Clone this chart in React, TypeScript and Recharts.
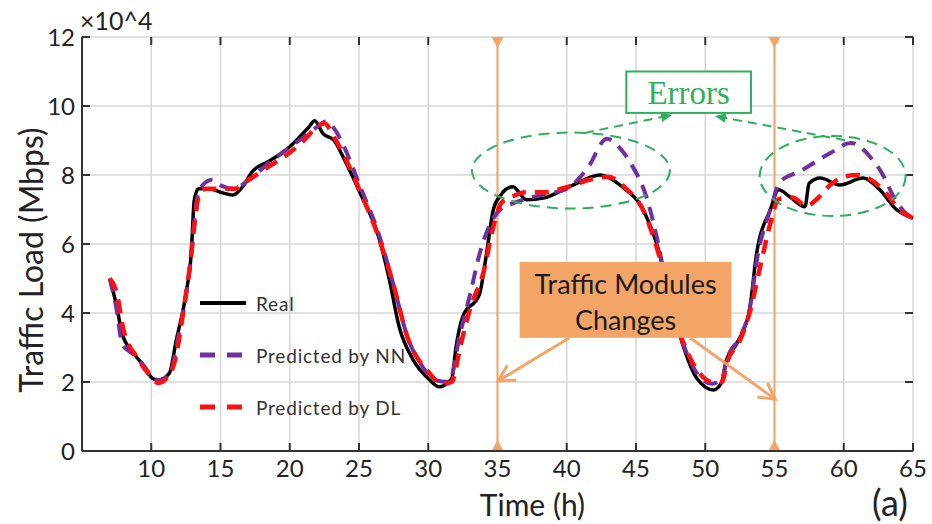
import React from 'react';
import {
  LineChart, Line, XAxis, YAxis, CartesianGrid, Legend,
  ReferenceLine, ReferenceDot, ReferenceArea, Label
} from 'recharts';

// readings, load in units of 10^4 Mbps
const realHours = [7, 7.5, 7.9, 8.7, 9.5, 10.1, 10.5, 11.3, 11.8, 12.5, 12.9, 13.1, 13.4, 14.2, 15, 15.9, 16.6, 17.3, 18.5, 20, 21.4, 21.8, 22.4, 23.2, 24, 25, 26.5, 27.2, 27.9, 28.9, 30, 30.8, 31.7, 32, 32.5, 33.7, 34.2, 34.7, 35.2, 36.1, 37.1, 38.3, 40.4, 42.4, 44, 45.5, 46.5, 47.9, 49.4, 50.6, 51.2, 51.5, 52.3, 53.2, 53.7, 54.7, 55.3, 56.1, 57.2, 57.5, 58.3, 59.7, 61.4, 62.6, 63.8, 65];
const realLoad = [5.0, 4.2, 3.4, 2.85, 2.45, 2.1, 2.05, 2.25, 3.2, 4.55, 5.8, 7.25, 7.6, 7.6, 7.5, 7.42, 7.66, 8.1, 8.4, 8.82, 9.4, 9.57, 9.2, 9.0, 8.4, 7.55, 6.1, 4.95, 3.6, 2.65, 2.1, 1.86, 2.1, 3.0, 3.9, 4.55, 5.7, 7.0, 7.4, 7.66, 7.28, 7.33, 7.7, 8.0, 7.66, 7.0, 6.0, 3.7, 2.1, 1.77, 2.0, 2.6, 3.13, 4.1, 5.7, 7.0, 7.57, 7.37, 7.08, 7.76, 7.91, 7.71, 7.91, 7.57, 7.0, 6.75];

const nnHours = [7, 7.5, 7.9, 8.7, 9.5, 10.2, 10.6, 11.4, 11.9, 12.5, 12.9, 13.3, 13.7, 14.4, 15, 16, 17, 18.5, 20, 21, 22, 22.6, 23.2, 24, 25, 26.5, 27.5, 28.5, 29.5, 30.5, 31.5, 32.3, 33, 33.7, 34.5, 35.2, 36.1, 37, 38.5, 40, 41.5, 42.9, 44, 44.6, 45.8, 46.5, 47.5, 48.5, 49.5, 50.5, 51.2, 51.6, 52.5, 53.2, 53.8, 54.7, 55.4, 56.8, 59, 60.5, 61.9, 62.9, 63.6, 64.8, 65];
const nnLoad = [5.0, 4.1, 3.1, 2.8, 2.45, 2.1, 2.05, 2.3, 3.2, 4.5, 5.7, 7.3, 7.7, 7.86, 7.7, 7.6, 7.85, 8.35, 8.8, 9.1, 9.4, 9.55, 9.35, 8.75, 7.75, 6.2, 4.8, 3.3, 2.5, 2.05, 2.0, 3.4, 4.5, 5.7, 6.6, 7.0, 7.18, 7.3, 7.45, 7.6, 8.2, 9.05, 8.7, 8.35, 7.3, 6.2, 4.2, 3.0, 2.2, 1.95, 2.1, 2.7, 3.3, 4.1, 5.7, 7.0, 7.8, 8.1, 8.63, 8.93, 8.53, 7.95, 7.37, 6.79, 6.75];

const dlHours = [7, 7.5, 8, 9, 10, 10.5, 11.2, 11.7, 12.3, 12.8, 13.1, 13.5, 14, 15, 16, 17, 18.5, 20, 21, 22, 22.5, 23.2, 24, 25, 26.5, 27.5, 28.5, 30, 31, 31.7, 32.3, 33, 34, 34.7, 35.3, 36.2, 37, 38.5, 40, 42, 43, 44.3, 45.5, 46.5, 48, 49.5, 50.5, 51.2, 51.6, 52.5, 53.2, 54, 54.7, 55.3, 56.3, 57.3, 58, 59, 60, 61, 62, 63, 64, 65];
const dlLoad = [5.0, 4.6, 3.5, 2.7, 2.15, 1.97, 2.15, 2.6, 4.0, 5.4, 6.5, 7.5, 7.6, 7.6, 7.6, 7.85, 8.25, 8.65, 9.0, 9.4, 9.5, 9.1, 8.5, 7.6, 6.1, 4.8, 3.3, 2.3, 1.95, 2.0, 3.0, 4.1, 5.2, 6.5, 7.2, 7.4, 7.5, 7.5, 7.65, 7.9, 7.95, 7.6, 7.0, 5.9, 3.6, 2.3, 2.0, 2.0, 2.6, 3.2, 4.0, 5.4, 6.6, 7.3, 7.35, 7.1, 7.28, 7.7, 7.95, 8.0, 7.85, 7.5, 7.0, 6.75];

const seriesOrder = ['Real', 'Predicted by NN', 'Predicted by DL'];
const xTicks = [10, 15, 20, 25, 30, 35, 40, 45, 50, 55, 60, 65];
const yTicks = [0, 2, 4, 6, 8, 10, 12];
const changeHours = [35, 55];

// annotation anchors, in data coordinates
const errorCircles = [
  { x: 40.3, y: 8.13, rx: 99, ry: 38 },
  { x: 59.2, y: 7.97, rx: 73, ry: 40 },
];
const errorArrows = [
  [{ x: 41.3, y: 9.22 }, { x: 47.6, y: 9.74 }],
  [{ x: 60.1, y: 9.01 }, { x: 50.7, y: 9.71 }],
];
const changeArrows = [
  [{ x: 40.2, y: 3.28 }, { x: 35.05, y: 2.03 }],
  [{ x: 48.9, y: 3.28 }, { x: 55.05, y: 1.5 }],
];
const errorsBox = { x1: 44.3, x2: 53.3, y1: 9.8, y2: 11.0 };
const changesBox = { x1: 36.6, x2: 51.9, y1: 3.28, y2: 5.48 };

const toPoints = (hours: number[], load: number[]) => hours.map((h, i) => ({ h, load: load[i] }));
const realData = toPoints(realHours, realLoad);
const nnData = toPoints(nnHours, nnLoad);
const dlData = toPoints(dlHours, dlLoad);

const ORANGE = '#F3A568';
const GREEN = '#2FAE5C';
const AXIS = '#333';
const FONT = 'Lato, "Open Sans", sans-serif';
const TICK_LEN = 8;

const ChangeMarker = (props: any) => {
  const { x1, y1, y2 } = props;
  const top = Math.min(y1, y2);
  const bottom = Math.max(y1, y2);
  return (
    <g>
      <line x1={x1} x2={x1} y1={top} y2={bottom} stroke={ORANGE} strokeWidth={2} />
      <polygon points={`${x1 - 6},${top} ${x1 + 6},${top} ${x1},${top + 11}`} fill={ORANGE} />
      <polygon points={`${x1 - 6},${bottom} ${x1 + 6},${bottom} ${x1},${bottom - 11}`} fill={ORANGE} />
    </g>
  );
};

// inward tick marks on both ends of a grid line (box axes)
const XTickPair = (props: any) => {
  const { x1, y1, y2 } = props;
  const top = Math.min(y1, y2);
  const bottom = Math.max(y1, y2);
  return (
    <g>
      <line x1={x1} x2={x1} y1={top} y2={top + TICK_LEN} stroke={AXIS} strokeWidth={2} />
      <line x1={x1} x2={x1} y1={bottom} y2={bottom - TICK_LEN} stroke={AXIS} strokeWidth={2} />
    </g>
  );
};
const YTickPair = (props: any) => {
  const { x1, x2, y1 } = props;
  const left = Math.min(x1, x2);
  const right = Math.max(x1, x2);
  return (
    <g>
      <line x1={left} x2={left + TICK_LEN} y1={y1} y2={y1} stroke={AXIS} strokeWidth={2} />
      <line x1={right} x2={right - TICK_LEN} y1={y1} y2={y1} stroke={AXIS} strokeWidth={2} />
    </g>
  );
};

const makeArrow = (color: string, width: number, dash: string | undefined, open: boolean) => (props: any) => {
  const { x1, y1, x2, y2 } = props;
  const a = Math.atan2(y2 - y1, x2 - x1);
  const len = open ? 18 : 12;
  const spread = open ? 0.5 : 0.42;
  const p1 = `${x2 - len * Math.cos(a - spread)},${y2 - len * Math.sin(a - spread)}`;
  const p2 = `${x2 - len * Math.cos(a + spread)},${y2 - len * Math.sin(a + spread)}`;
  return (
    <g>
      <line x1={x1} y1={y1} x2={x2} y2={y2} stroke={color} strokeWidth={width} strokeDasharray={dash} />
      {open
        ? <polyline points={`${p1} ${x2},${y2} ${p2}`} fill="none" stroke={color} strokeWidth={width} />
        : <polygon points={`${p1} ${x2},${y2} ${p2}`} fill={color} />}
    </g>
  );
};

const renderLegend = (props: any) => {
  const payload = [...(props.payload || [])].sort(
    (a: any, b: any) => seriesOrder.indexOf(a.value) - seriesOrder.indexOf(b.value)
  );
  return (
    <div style={{ fontFamily: FONT, fontSize: 19, color: '#333', letterSpacing: 0.8 }}>
      {payload.map((entry: any) => (
        <div key={entry.value} style={{ display: 'flex', alignItems: 'center', height: 52 }}>
          <svg width={50} height={10}>
            <line
              x1={2} y1={5} x2={48} y2={5}
              stroke={entry.color}
              strokeWidth={entry.value === 'Real' ? 4 : 5}
              strokeDasharray={entry.value === 'Real' ? undefined : '15 12'}
            />
          </svg>
          <span style={{ marginLeft: 8 }}>{entry.value}</span>
        </div>
      ))}
    </div>
  );
};

const tickStyle = { fontFamily: FONT, fontSize: 24, fill: '#222' };

const App: React.FC = () => {
  return (
    <div style={{ position: 'absolute', left: 0, top: 0, width: 932, height: 524, background: '#fff' }}>
      <LineChart width={932} height={524} margin={{ top: 37, right: 19, bottom: 0, left: 22 }}>
        <CartesianGrid stroke="#d6d6d6" strokeWidth={1.5} />
        <XAxis
          dataKey="h"
          type="number"
          domain={[5, 65]}
          ticks={xTicks}
          height={73}
          tickSize={0}
          tickMargin={9}
          tickLine={false}
          tick={tickStyle}
          stroke={AXIS}
          strokeWidth={2}
          allowDuplicatedCategory={false}
        >
          <Label
            content={({ viewBox }: any) => (
              <text
                x={viewBox.x + viewBox.width / 2 + 35}
                y={viewBox.y + 65}
                textAnchor="middle"
                style={{ fontFamily: FONT, fontSize: 30, fill: '#222' }}
              >
                Time (h)
              </text>
            )}
          />
        </XAxis>
        <XAxis
          xAxisId="top"
          orientation="top"
          type="number"
          domain={[5, 65]}
          height={0}
          tick={false}
          tickLine={false}
          stroke={AXIS}
          strokeWidth={2}
        />
        <YAxis
          type="number"
          domain={[0, 12]}
          ticks={yTicks}
          width={60}
          tickSize={0}
          tickMargin={7}
          tickLine={false}
          tick={tickStyle}
          stroke={AXIS}
          strokeWidth={2}
        >
          <Label
            content={({ viewBox }: any) => {
              const cx = viewBox.x + 8;
              const cy = 260;
              return (
                <text
                  x={cx}
                  y={cy}
                  textAnchor="middle"
                  dominantBaseline="central"
                  transform={`rotate(-90, ${cx}, ${cy})`}
                  style={{ fontFamily: FONT, fontSize: 32, fill: '#222' }}
                >
                  Traffic Load (Mbps)
                </text>
              );
            }}
          />
        </YAxis>
        <YAxis
          yAxisId="right"
          orientation="right"
          type="number"
          domain={[0, 12]}
          width={0}
          tick={false}
          tickLine={false}
          stroke={AXIS}
          strokeWidth={2}
        />

        {xTicks.map(t => (
          <ReferenceLine key={`xt${t}`} x={t} stroke="none" shape={XTickPair} />
        ))}
        {yTicks.map(t => (
          <ReferenceLine key={`yt${t}`} y={t} stroke="none" shape={YTickPair} />
        ))}

        <Legend
          content={renderLegend}
          layout="vertical"
          align="center"
          verticalAlign="middle"
          wrapperStyle={{ left: 198, top: 277, width: 260 }}
        />

        {changeHours.map(h => (
          <ReferenceLine key={h} x={h} shape={ChangeMarker} />
        ))}

        <Line data={realData} dataKey="load" name="Real" type="monotone" stroke="#000" strokeWidth={3.5}
          dot={false} isAnimationActive={false} />
        <Line data={nnData} dataKey="load" name="Predicted by NN" type="monotone" stroke="#7030A0" strokeWidth={4}
          strokeDasharray="14 9" dot={false} isAnimationActive={false} />
        <Line data={dlData} dataKey="load" name="Predicted by DL" type="monotone" stroke="#FF1010" strokeWidth={4.5}
          strokeDasharray="14 9" dot={false} isAnimationActive={false} />

        {errorCircles.map((c, i) => (
          <ReferenceDot
            key={`c${i}`}
            x={c.x}
            y={c.y}
            r={0}
            zIndex={700}
            shape={(p: any) => (
              <ellipse cx={p.cx} cy={p.cy} rx={c.rx} ry={c.ry} fill="none"
                stroke={GREEN} strokeWidth={2} strokeDasharray="11 7" />
            )}
          />
        ))}
        {errorArrows.map((seg, i) => (
          <ReferenceLine key={`e${i}`} segment={seg} zIndex={700} shape={makeArrow(GREEN, 2, '9 6', false)} />
        ))}
        <ReferenceArea
          {...errorsBox}
          zIndex={700}
          shape={(p: any) => (
            <g>
              <rect x={p.x} y={p.y} width={p.width} height={p.height} fill="#fff" stroke={GREEN} strokeWidth={2} />
              <text x={p.x + p.width / 2} y={p.y + p.height / 2 + 1} textAnchor="middle" dominantBaseline="central"
                style={{ fontFamily: '"Liberation Serif", serif', fontSize: 33, fill: GREEN }}>
                Errors
              </text>
            </g>
          )}
        />
        <ReferenceArea
          {...changesBox}
          zIndex={700}
          shape={(p: any) => (
            <g>
              <rect x={p.x} y={p.y} width={p.width} height={p.height} fill={ORANGE} />
              <text x={p.x + p.width / 2} y={p.y + 22} textAnchor="middle" dominantBaseline="central"
                style={{ fontFamily: FONT, fontSize: 27, fill: '#1a1a1a' }}>
                Traffic Modules
              </text>
              <text x={p.x + p.width / 2} y={p.y + 58} textAnchor="middle" dominantBaseline="central"
                style={{ fontFamily: FONT, fontSize: 27, fill: '#1a1a1a' }}>
                Changes
              </text>
            </g>
          )}
        />
        {changeArrows.map((seg, i) => (
          <ReferenceLine key={`a${i}`} segment={seg} zIndex={700} shape={makeArrow(ORANGE, 3, undefined, true)} />
        ))}
      </LineChart>
      <div style={{ position: 'absolute', left: 80, top: 8, fontFamily: FONT, fontSize: 25, color: '#222', lineHeight: 1 }}>
        ×10^4
      </div>
      <div style={{ position: 'absolute', left: 872, top: 484, fontFamily: FONT, fontSize: 36, color: '#222', lineHeight: 1 }}>
        (a)
      </div>
    </div>
  );
};

export default App;
